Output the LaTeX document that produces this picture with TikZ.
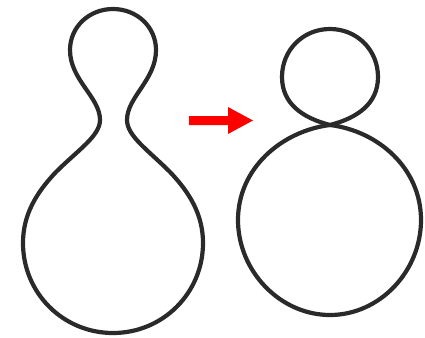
\documentclass[tikz,border=0pt]{standalone}
\usepackage{tikz}
\definecolor{ink}{HTML}{2A2A2A}
\tikzset{outline/.style={draw=ink,line width=4.2pt,line join=round}}
\begin{document}
\begin{tikzpicture}[x=1pt,y=-1pt]
\useasboundingbox (0,0) rectangle (425,337);
% left gourd
\draw[outline] (113,9)
  .. controls (137,9) and (156,27) .. (156,50)
  .. controls (156,80) and (127,97) .. (127,120)
  .. controls (127,136) and (148,150) .. (170,172)
  .. controls (190,193) and (203,215) .. (203,243)
  .. controls (203,293) and (163,333) .. (113,333)
  .. controls (63,333) and (23,293) .. (23,243)
  .. controls (23,215) and (36,193) .. (56,172)
  .. controls (78,150) and (100,136) .. (100,120)
  .. controls (100,97) and (70,80) .. (70,50)
  .. controls (70,27) and (89,9) .. (113,9) -- cycle;
% arrow
\fill[red] (189,116) -- (228,116) -- (228,107) -- (253,120.5) -- (228,134) -- (228,125) -- (189,125) -- cycle;
% figure eight
\coordinate (J) at (330,125);
\draw[outline] (J)
  .. controls (357,118) and (378,104) .. (378,77)
  .. controls (378,50) and (357,29) .. (330,29)
  .. controls (303,29) and (282,50) .. (282,77)
  .. controls (282,104) and (303,118) .. (J) -- cycle;
\draw[outline] (J)
  .. controls (378,131) and (421,168) .. (421,220)
  .. controls (421,271) and (380,315) .. (330,315)
  .. controls (280,315) and (238,271) .. (238,220)
  .. controls (238,168) and (282,131) .. (J) -- cycle;
\end{tikzpicture}
\end{document}
